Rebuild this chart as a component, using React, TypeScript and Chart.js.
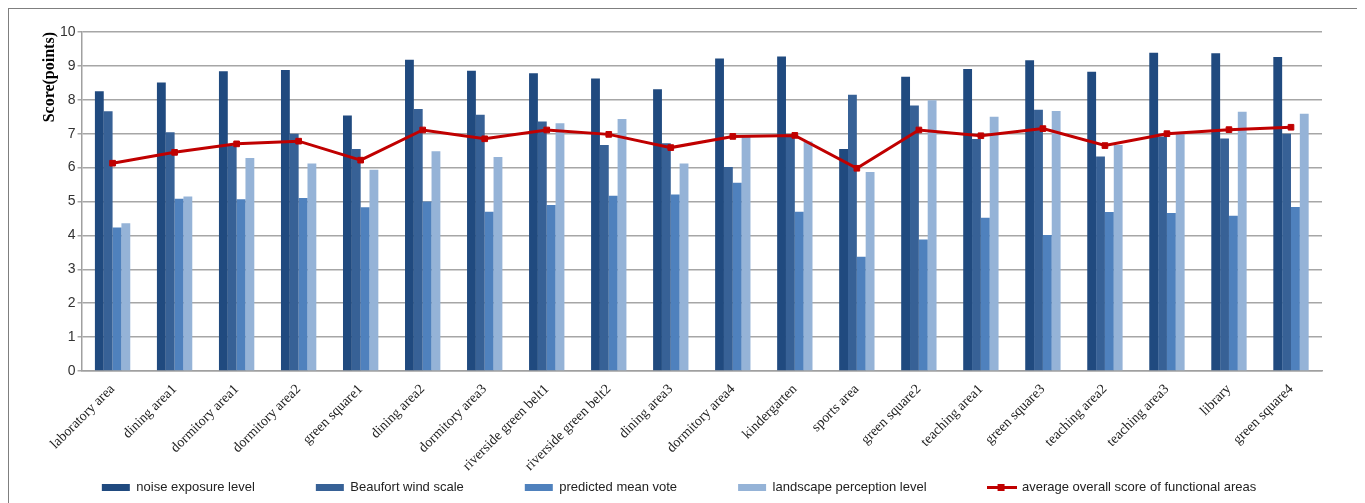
import { useEffect, useRef } from 'react';
import { Chart, ChartItem, ChartConfiguration, Plugin, registerables } from 'chart.js';

Chart.register(...registerables);

const categories = [
  'laboratory area',
  'dining area1',
  'dormitory area1',
  'dormitory area2',
  'green square1',
  'dining area2',
  'dormitory area3',
  'riverside green belt1',
  'riverside green belt2',
  'dining area3',
  'dormitory area4',
  'kindergarten',
  'sports area',
  'green square2',
  'teaching area1',
  'green square3',
  'teaching area2',
  'teaching area3',
  'library',
  'green square4',
];

const noiseExposure = [8.25, 8.51, 8.84, 8.88, 7.54, 9.18, 8.86, 8.78, 8.63, 8.31, 9.22, 9.28, 6.55, 8.68, 8.91, 9.17, 8.83, 9.39, 9.37, 9.26];
const beaufortWind = [7.66, 7.04, 6.65, 7.0, 6.55, 7.73, 7.56, 7.36, 6.67, 6.72, 6.02, 6.97, 8.15, 7.83, 6.84, 7.71, 6.33, 6.92, 6.86, 7.0];
const meanVote = [4.23, 5.08, 5.07, 5.1, 4.83, 5.0, 4.7, 4.9, 5.17, 5.21, 5.55, 4.7, 3.37, 3.88, 4.52, 4.01, 4.69, 4.66, 4.58, 4.84];
const landscape = [4.36, 5.15, 6.28, 6.12, 5.94, 6.48, 6.31, 7.31, 7.43, 6.12, 6.92, 6.77, 5.87, 7.99, 7.5, 7.67, 6.67, 6.99, 7.65, 7.59];
const averageScore = [6.13, 6.45, 6.7, 6.78, 6.22, 7.11, 6.85, 7.11, 6.98, 6.59, 6.92, 6.95, 5.98, 7.11, 6.94, 7.15, 6.65, 7.0, 7.12, 7.19];

const yTicks = [0, 1, 2, 3, 4, 5, 6, 7, 8, 9, 10];

const RED = '#c00000';
const barColors = ['#204a7f', '#376196', '#4f81bd', '#95b3d7'];

const sans = "'Liberation Sans', Arial, sans-serif";
const serif = "'Liberation Serif', 'Times New Roman', serif";

const LEGEND_PAD = 61; // horizontal gap between legend entries
const LEGEND_TRIM = 53; // vertical space taken back from the legend box

// chart.js uses labels.padding both between entries and above them;
// keep the wide horizontal gaps but drop most of the empty space above
const compactLegend: Plugin = {
  id: 'compactLegend',
  beforeLayout(chart: any) {
    const legend = chart.legend;
    if (!legend || legend.__compact) return;
    legend.__compact = true;
    const fit = legend.fit;
    legend.fit = function () {
      fit.call(this);
      this.height = Math.max(0, this.height - LEGEND_TRIM);
    };
    const draw = legend.draw;
    legend.draw = function () {
      const top = this.top;
      this.top = top - LEGEND_TRIM + 1;
      draw.call(this);
      this.top = top;
    };
  },
};

// line-with-square glyph for the legend entry of the line series
const makeLineGlyph = () => {
  const c = document.createElement('canvas');
  c.width = 30;
  c.height = 9;
  const ctx = c.getContext('2d')!;
  ctx.fillStyle = RED;
  ctx.fillRect(0, 3, 30, 3);
  ctx.fillRect(11, 1, 7, 7);
  return c;
};

const App = () => {
  const canvasRef = useRef<HTMLCanvasElement>(null);

  useEffect(() => {
    const lineGlyph = makeLineGlyph();

    const config = {
      type: 'bar',
      data: {
        labels: categories,
        datasets: [
          { label: 'noise exposure level', data: noiseExposure, backgroundColor: barColors[0] },
          { label: 'Beaufort wind scale', data: beaufortWind, backgroundColor: barColors[1] },
          { label: 'predicted mean vote', data: meanVote, backgroundColor: barColors[2] },
          { label: 'landscape perception level', data: landscape, backgroundColor: barColors[3] },
          {
            type: 'line',
            label: 'average overall score of functional areas',
            data: averageScore,
            borderColor: RED,
            backgroundColor: RED,
            borderWidth: 3,
            pointStyle: 'rect',
            pointRadius: 4,
            pointBorderWidth: 1,
            pointBackgroundColor: RED,
            pointBorderColor: RED,
            order: -1,
          },
        ],
      },
      options: {
        animation: false,
        responsive: false,
        layout: { padding: { left: 27, right: 35, top: 23, bottom: 0 } },
        datasets: {
          bar: { categoryPercentage: 0.57, barPercentage: 1 },
        },
        scales: {
          x: {
            grid: { display: false, drawTicks: false },
            border: { display: true, color: '#a0a0a0', width: 1.5 },
            ticks: {
              autoSkip: false,
              minRotation: 45,
              maxRotation: 45,
              padding: 10,
              color: '#222',
              font: { family: serif, size: 14 },
            },
            afterFit: (scale: any) => {
              scale.height = 101;
            },
          },
          y: {
            min: 0,
            max: 10,
            afterBuildTicks: (scale: any) => {
              scale.ticks = yTicks.map((v) => ({ value: v }));
            },
            grid: { color: '#a6a6a6', lineWidth: 1.5, tickLength: 4 },
            border: { display: true, color: '#a0a0a0', width: 1.5 },
            ticks: {
              padding: 2,
              color: '#333',
              font: { family: sans, size: 14 },
            },
            title: {
              display: true,
              text: 'Score(points)',
              align: 'end',
              color: '#000',
              padding: { top: 6, bottom: 0 },
              font: { family: serif, size: 16, weight: 'bold', lineHeight: 1 },
            },
          },
        },
        plugins: {
          tooltip: { enabled: false },
          legend: {
            position: 'bottom',
            labels: {
              usePointStyle: true,
              pointStyleWidth: 28,
              boxHeight: 7,
              padding: LEGEND_PAD,
              color: '#222',
              font: { family: sans, size: 13 },
              generateLabels: (chart: Chart) =>
                chart.data.datasets.map((ds: any, i: number) => ({
                  text: ds.label,
                  fillStyle: ds.type === 'line' ? RED : ds.backgroundColor,
                  strokeStyle: 'rgba(0,0,0,0)',
                  lineWidth: 0,
                  pointStyle: ds.type === 'line' ? lineGlyph : 'rect',
                  hidden: false,
                  datasetIndex: i,
                  fontColor: '#222',
                })),
            },
          },
        },
      },
      plugins: [compactLegend],
    } as ChartConfiguration;

    const chartRef = new Chart(canvasRef.current as ChartItem, config);

    return () => {
      chartRef.destroy();
    };
  }, []);

  return (
    <div
      style={{
        width: 1350,
        height: 495,
        boxSizing: 'border-box',
        borderTop: '1px solid #7f7f7f',
        borderLeft: '1px solid #7f7f7f',
        borderRight: '1px solid #7f7f7f',
        overflow: 'hidden',
      }}
    >
      <canvas ref={canvasRef} width={1348} height={494} style={{ display: 'block' }} />
    </div>
  );
};

export default App;
